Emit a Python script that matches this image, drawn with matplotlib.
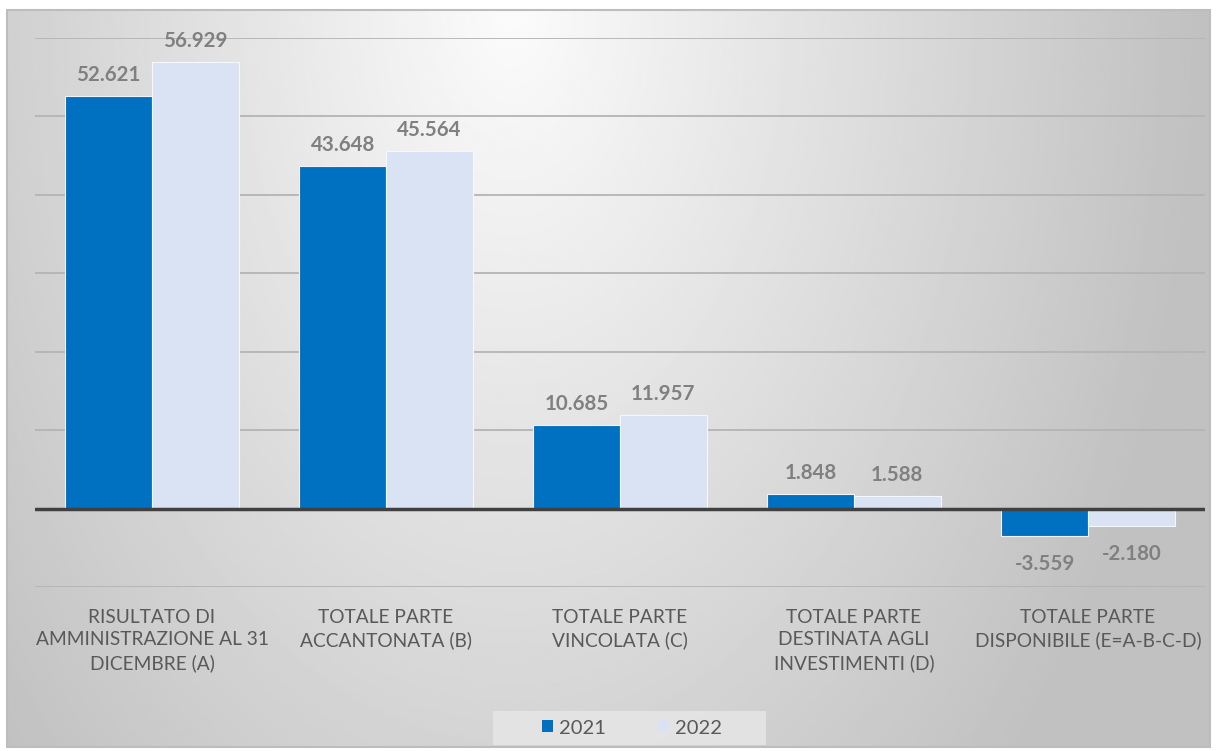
import numpy as np
from matplotlib import pyplot as plt
from matplotlib.patches import Patch, Rectangle

categories = [
    "RISULTATO DI\nAMMINISTRAZIONE AL 31\nDICEMBRE (A)",
    "TOTALE PARTE\nACCANTONATA (B)",
    "TOTALE PARTE\nVINCOLATA (C)",
    "TOTALE PARTE\nDESTINATA AGLI\nINVESTIMENTI (D)",
    "TOTALE PARTE\nDISPONIBILE (E=A-B-C-D)",
]
series_names = ["2021", "2022"]
values_2021 = [52621, 43648, 10685, 1848, -3559]
values_2022 = [56929, 45564, 11957, 1588, -2180]
colors = ["#0070c0", "#dae3f3"]

W, H = 1219, 751
plt.rcParams['font.family'] = ['Lato', 'DejaVu Sans']
fig = plt.figure(figsize=(W / 100, H / 100), dpi=100)
fig.patch.set_facecolor('white')


def px(x0, y0, x1, y1):
    # pixel box -> figure fraction
    return [x0 / W, 1 - y1 / H, (x1 - x0) / W, (y1 - y0) / H]


# grey radial gradient behind the chart, lightest near the top middle
bg = fig.add_axes(px(7, 10, 1210, 747))
gx = np.linspace(0, 1, 400)
gy = np.linspace(0, 1, 250)
GX, GY = np.meshgrid(gx, gy)
d = np.sqrt(((GX - 0.42) / 0.5) ** 2 + (GY / 1.3) ** 2)
shade = 0.985 - 0.20 * np.clip(d, 0, 1.15)
bg.imshow(shade, cmap='gray', vmin=0, vmax=1, aspect='auto',
          extent=[0, 1, 1, 0], interpolation='bilinear')
bg.set_axis_off()
bg.add_patch(Rectangle((0, 0), 1, 1, transform=bg.transAxes, fill=False,
                       edgecolor='#bdbdbd', linewidth=1.5, clip_on=False))

ax = fig.add_axes(px(35, 38, 1205, 587))
ax.patch.set_alpha(0)

x = np.arange(len(categories))
bw = 0.37
bars1 = ax.bar(x - bw / 2, values_2021, bw, color=colors[0], edgecolor='#f0f4fa',
               linewidth=0.8, zorder=3)
bars2 = ax.bar(x + bw / 2, values_2022, bw, color=colors[1], edgecolor='#f4f7fc',
               linewidth=0.8, zorder=3)

ax.set_ylim(-10000, 60000)
ax.set_xlim(-0.5, len(categories) - 0.5)
ax.set_yticks(np.arange(-10000, 60001, 10000))
ax.yaxis.grid(True, color='#b4b4b4', linewidth=1.3, zorder=0)
ax.axhline(0, color='#404040', linewidth=2.5, zorder=4)
ax.tick_params(axis='y', left=False, labelleft=False)
ax.tick_params(axis='x', bottom=False, pad=12)
ax.set_xticks(x)
ax.set_xticklabels(categories, fontsize=13.8, color='#595959', linespacing=1.4, va='top')
for s in ax.spines.values():
    s.set_visible(False)


def fmt(v):
    return f"{v:,}".replace(",", ".")


for bars, vals in [(bars1, values_2021), (bars2, values_2022)]:
    for b, v in zip(bars, vals):
        off = 21 if v >= 0 else -28
        ax.annotate(fmt(v), (b.get_x() + b.get_width() / 2, v),
                    xytext=(0, off), textcoords='offset pixels',
                    ha='center', va='center', fontsize=14.8, fontweight='bold',
                    color='#808080', zorder=5)

# legend box
fig.patches.append(Rectangle((493 / W, 1 - 745 / H), 273 / W, 34 / H,
                             transform=fig.transFigure, facecolor='#e6e6e6',
                             edgecolor='none', alpha=0.85, zorder=1))
handles = [Patch(facecolor=c, edgecolor='none') for c in colors]
leg = fig.legend(handles, series_names, loc='center', bbox_to_anchor=(632 / W, 1 - 728 / H),
                 ncol=2, frameon=False, fontsize=14.5, handlelength=0.55, handleheight=0.55,
                 handletextpad=0.3, columnspacing=2.6, labelcolor='#595959')

fig.savefig('out.png', dpi=100)
